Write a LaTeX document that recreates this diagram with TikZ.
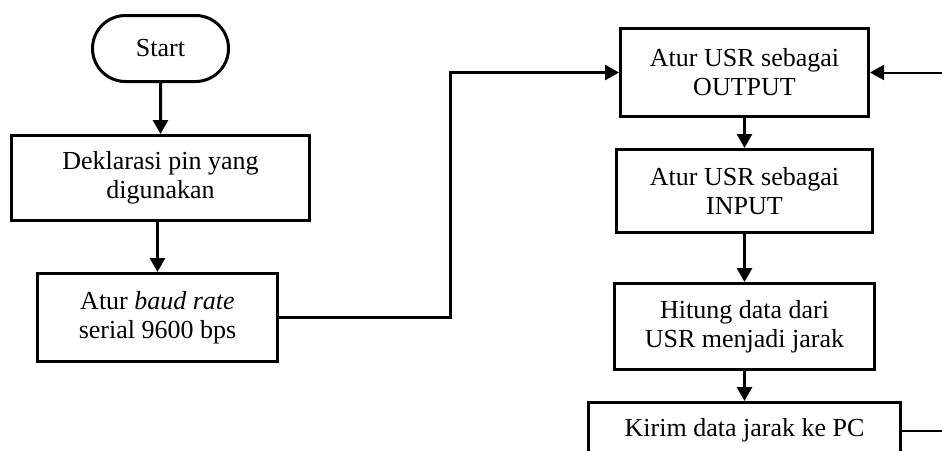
\documentclass[tikz,border=0pt]{standalone}
\usepackage{fontspec}
\setmainfont{Liberation Serif}
\usetikzlibrary{positioning,arrows.meta,shapes.misc}

\begin{document}
\begin{tikzpicture}[node distance=26pt,
  proc/.style = {draw, line width=1.5pt, align=center, font=\fontsize{13}{14.5}\selectfont, inner sep=2pt},
  term/.style = {proc, rounded rectangle, minimum width=72pt, minimum height=33pt},
  arr/.style = {line width=1.5pt, -{Triangle[length=7pt,width=7.5pt]}}]
  \useasboundingbox (0,0) rectangle (471pt,-225pt);
  % left column
  \node[term] (start) at (80.25pt,-24.25pt) {Start};
  \node[proc, minimum width=149pt, minimum height=42.5pt, below=25.5pt of start] (dekl) {Deklarasi pin yang\\digunakan};
  \node[proc, minimum width=120pt, minimum height=44pt, below=25pt of dekl, xshift=-1.5pt] (baud) {Atur \textit{baud rate}\\serial 9600 bps};
  % right column
  \node[proc, minimum width=124pt, minimum height=44pt] (output) at (372.25pt,-36.25pt) {Atur USR sebagai\\OUTPUT};
  \node[proc, minimum width=128pt, minimum height=41.5pt, below=15pt of output] (input) {Atur USR sebagai\\INPUT};
  \node[proc, minimum width=130pt, minimum height=43pt, below=24pt of input] (hitung) {Hitung data dari\\USR menjadi jarak};
  \node[proc, minimum width=156pt, minimum height=28pt, below=15pt of hitung] (kirim) {Kirim data jarak ke PC};
  \coordinate (turn) at (225pt,0);
  \coordinate (back) at (476pt,0);
  \draw[arr] (start) -- (dekl);
  \draw[arr] (dekl.south -| baud.north) -- (baud);
  \draw[arr] (baud.east) -- (baud.east -| turn) |- (output.west);
  \draw[arr] (output) -- (input);
  \draw[arr] (input) -- (hitung);
  \draw[arr] (hitung) -- (kirim);
  \draw[arr, line width=1pt] (kirim.east) -- (kirim.east -| back) |- (output.east);
\end{tikzpicture}
\end{document}
